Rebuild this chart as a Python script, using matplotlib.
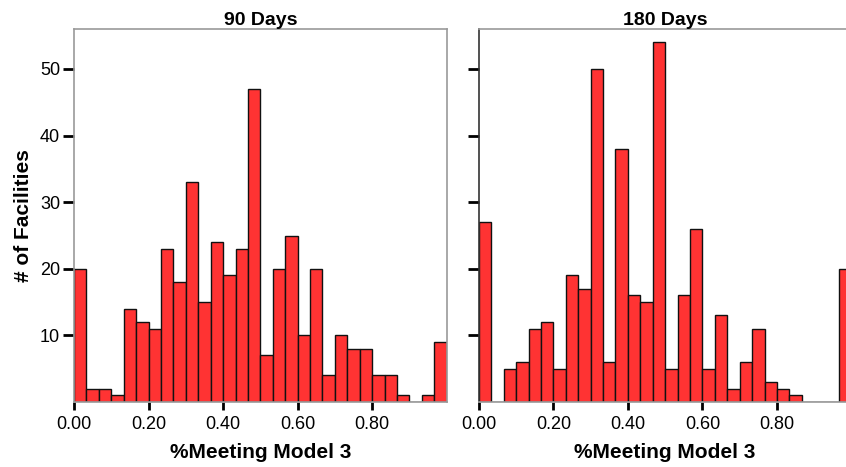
import numpy as np
import matplotlib
matplotlib.use("Agg")
import matplotlib.pyplot as plt

# facility counts per 1/30-wide bin of "% meeting model 3", 0.0 .. 1.0
counts_90 = [20, 2, 2, 1, 14, 12, 11, 23, 18, 33, 15, 24, 19, 23, 47,
             7, 20, 25, 10, 20, 4, 10, 8, 8, 4, 4, 1, 0, 1, 9]
counts_180 = [27, 0, 5, 6, 11, 12, 5, 19, 17, 50, 6, 38, 16, 15, 54,
              5, 16, 26, 5, 13, 2, 6, 11, 3, 2, 1, 0, 0, 0, 20]
titles = ["90 Days", "180 Days"]
x_ticks = [0.0, 0.2, 0.4, 0.6, 0.8]
x_ticklabels = ["0.00", "0.20", "0.40", "0.60", "0.80"]
y_ticks = [10, 20, 30, 40, 50]

plt.rcParams['font.family'] = ['Liberation Sans', 'DejaVu Sans']

edges = np.linspace(0, 1, 31)
fig = plt.figure(figsize=(8.46, 4.67), dpi=100)

# second axes runs past the right edge of the figure, as in the original
positions = [[0.0875, 0.139, 0.4405, 0.799], [0.566, 0.139, 0.4405, 0.799]]

for i, (counts, title) in enumerate(zip([counts_90, counts_180], titles)):
    ax = fig.add_axes(positions[i])
    ax.bar(edges[:-1], counts, width=edges[1] - edges[0], align='edge',
           color='#ff3333', edgecolor='#111111', linewidth=1.0, zorder=2)
    ax.set_xlim(0, 1)
    ax.set_ylim(0, 56)
    ax.set_xticks(x_ticks)
    ax.set_xticklabels(x_ticklabels)
    ax.set_yticks(y_ticks)
    if i == 0:
        ax.set_yticklabels([str(v) for v in y_ticks])
        ax.set_ylabel("# of Facilities", fontsize=15, fontweight='bold', labelpad=5)
    else:
        ax.set_yticklabels([])
    ax.tick_params(axis='both', direction='out', width=2, color='black',
                   labelsize=13)
    ax.tick_params(axis='y', length=8, pad=2)
    ax.tick_params(axis='x', length=6, pad=4)
    for side in ['top', 'right', 'bottom', 'left']:
        ax.spines[side].set_color('#999999')
        ax.spines[side].set_linewidth(1.2)
    if i == 1:
        ax.spines['left'].set_color('#333333')
    ax.set_title(title, fontsize=14, fontweight='bold', pad=2)
    ax.set_xlabel("%Meeting Model 3", fontsize=15, fontweight='bold', labelpad=7)

fig.savefig("out.png", dpi=100)
